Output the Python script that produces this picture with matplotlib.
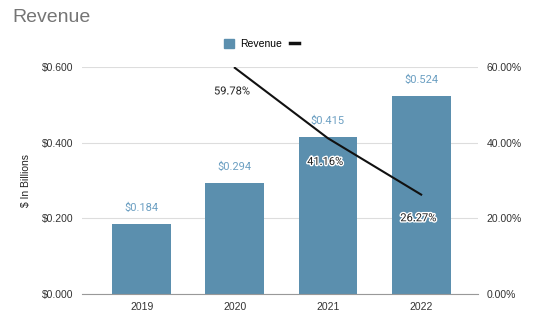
import matplotlib.pyplot as plt
import matplotlib.patheffects as pe
from matplotlib.lines import Line2D
from matplotlib.patches import Patch

plt.rcParams["font.family"] = ["Liberation Sans", "DejaVu Sans"]

years = ["2019", "2020", "2021", "2022"]
revenue = [0.184, 0.294, 0.415, 0.524]
growth_years = ["2020", "2021", "2022"]
growth = [59.78, 41.16, 26.27]

bar_color = "#5b8fae"
label_color = "#6b9fc2"

fig = plt.figure(figsize=(5.34, 3.24), dpi=100)
ax = fig.add_axes([82 / 534, 30 / 324, 396 / 534, 227 / 324])
x = list(range(len(years)))
ax.bar(x, revenue, width=0.63, color=bar_color, zorder=2)
for xi, v in zip(x, revenue):
    ax.annotate(f"${v:.3f}", (xi, v), xytext=(0, 8), textcoords="offset points",
                ha="center", va="bottom", fontsize=8, color=label_color, family="Roboto")

ax.set_ylim(0, 0.6)
ax.set_yticks([0, 0.2, 0.4, 0.6])
ax.set_yticklabels([f"${t:.3f}" for t in [0, 0.2, 0.4, 0.6]])
ax.set_xlim(-0.64, 3.61)
ax.set_xticks(x)
ax.set_xticklabels(years)
ax.grid(axis="y", color="#dddddd", linewidth=0.8, zorder=0)
for s in ["top", "right", "left"]:
    ax.spines[s].set_visible(False)
ax.spines["bottom"].set_color("#999999")
ax.tick_params(axis="both", length=0, labelsize=7.5, colors="#333333", pad=6)
ax.set_ylabel("$ In Billions", fontsize=7.5, color="#222222", labelpad=8)

ax2 = ax.twinx()
gx = [years.index(y) for y in growth_years]
ax2.plot(gx, growth, color="#111111", linewidth=1.5, zorder=3)
ax2.set_ylim(0, 60)
ax2.set_yticks([0, 20, 40, 60])
ax2.set_yticklabels([f"{t:.2f}%" for t in [0, 20, 40, 60]])
for s in ax2.spines.values():
    s.set_visible(False)
ax2.tick_params(axis="y", length=0, labelsize=7.5, colors="#333333", pad=6)
for xi, v in zip(gx, growth):
    ax2.annotate(f"{v:.2f}%", (xi, v), xytext=(-2, -17), textcoords="offset points",
                 ha="center", va="center", fontsize=8, color="#222222", family="Roboto",
                 path_effects=[pe.withStroke(linewidth=2, foreground="white")])

fig.text(12 / 534, 1 - 18 / 324, "Revenue", fontsize=14, color="#757575",
         ha="left", va="center")
handles = [Patch(color=bar_color), Line2D([0], [0], color="#111111", linewidth=2.5)]
fig.legend(handles, ["Revenue", ""], loc="center", bbox_to_anchor=(265 / 534, 1 - 44 / 324),
           ncol=2, frameon=False, fontsize=7.5, handlelength=0.9, handleheight=0.9,
           columnspacing=0.8, handletextpad=0.6)

fig.savefig("out.png", dpi=100, facecolor="white")
